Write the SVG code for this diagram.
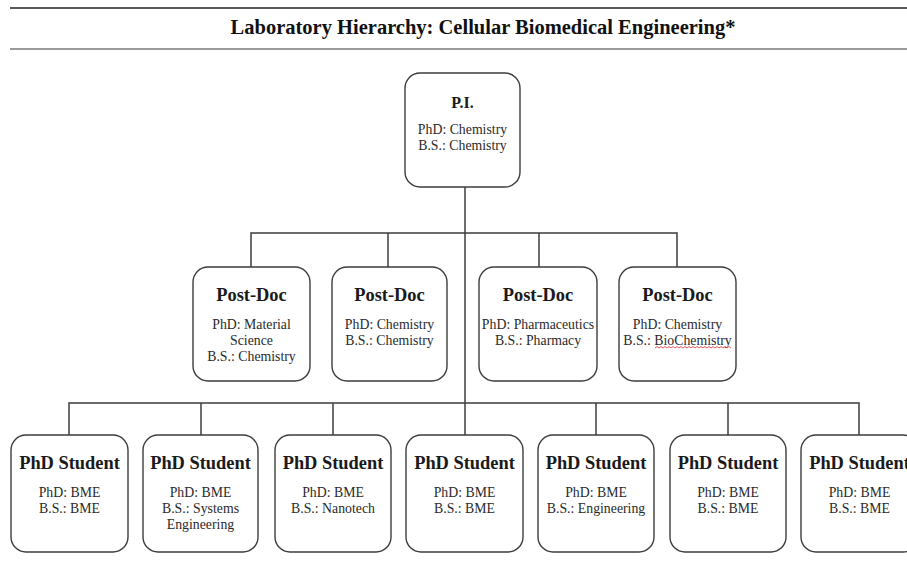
<svg xmlns="http://www.w3.org/2000/svg" width="907" height="578" viewBox="0 0 907 578">
  <style>
    .box { fill: #ffffff; stroke: #3c3c3c; stroke-width: 1.4; }
    .wire { fill: none; stroke: #3c3c3c; stroke-width: 1.5; }
    .title { font-family: "Liberation Serif", "Times New Roman", serif; font-weight: bold; font-size: 20.5px; fill: #111; text-anchor: middle; }
    .role { font-family: "Liberation Serif", "Times New Roman", serif; font-weight: bold; font-size: 18.4px; fill: #1a1a1a; text-anchor: middle; }
    .pi { font-family: "Liberation Serif", "Times New Roman", serif; font-weight: bold; font-size: 16px; fill: #1a1a1a; text-anchor: middle; }
    .info { font-family: "Liberation Serif", "Times New Roman", serif; font-size: 13.8px; fill: #2a2a2a; text-anchor: middle; }
  </style>

  <!-- header rules and title -->
  <g id="header">
    <line x1="10" y1="8" x2="907" y2="8" stroke="#5a5a5a" stroke-width="2"/>
    <line x1="10" y1="49" x2="907" y2="49" stroke="#9a9a9a" stroke-width="2"/>
    <text class="title" x="483" y="34">Laboratory Hierarchy: Cellular Biomedical Engineering*</text>
  </g>

  <!-- connectors -->
  <g id="connectors">
    <line class="wire" x1="465" y1="187" x2="465" y2="403"/>
    <polyline class="wire" points="251,267 251,233 677,233 677,267"/>
    <line class="wire" x1="388" y1="233" x2="388" y2="267"/>
    <line class="wire" x1="539" y1="233" x2="539" y2="267"/>
    <polyline class="wire" points="69,435 69,403 859,403 859,435"/>
    <line class="wire" x1="201" y1="403" x2="201" y2="435"/>
    <line class="wire" x1="333" y1="403" x2="333" y2="435"/>
    <line class="wire" x1="465" y1="403" x2="465" y2="435"/>
    <line class="wire" x1="596" y1="403" x2="596" y2="435"/>
    <line class="wire" x1="728" y1="403" x2="728" y2="435"/>
  </g>

  <!-- principal investigator -->
  <g id="pi">
    <rect class="box" x="405" y="73" width="115" height="114" rx="15"/>
    <text class="pi" x="462.5" y="108">P.I.</text>
    <text class="info" x="462.5" y="134">PhD: Chemistry</text>
    <text class="info" x="462.5" y="150">B.S.: Chemistry</text>
  </g>

  <!-- post-docs -->
  <g id="postdoc1">
    <rect class="box" x="193" y="267" width="117" height="114" rx="15"/>
    <text class="role" x="251.5" y="301">Post-Doc</text>
    <text class="info" x="251.5" y="329">PhD: Material</text>
    <text class="info" x="251.5" y="345">Science</text>
    <text class="info" x="251.5" y="361">B.S.: Chemistry</text>
  </g>
  <g id="postdoc2">
    <rect class="box" x="332" y="267" width="115" height="114" rx="15"/>
    <text class="role" x="389.5" y="301">Post-Doc</text>
    <text class="info" x="389.5" y="329">PhD: Chemistry</text>
    <text class="info" x="389.5" y="345">B.S.: Chemistry</text>
  </g>
  <g id="postdoc3">
    <rect class="box" x="479" y="267" width="118" height="114" rx="15"/>
    <text class="role" x="538" y="301">Post-Doc</text>
    <text class="info" x="538" y="329">PhD: Pharmaceutics</text>
    <text class="info" x="538" y="345">B.S.: Pharmacy</text>
  </g>
  <g id="postdoc4">
    <rect class="box" x="619" y="267" width="117" height="114" rx="15"/>
    <text class="role" x="677.5" y="301">Post-Doc</text>
    <text class="info" x="677.5" y="329">PhD: Chemistry</text>
    <text class="info" x="677.5" y="345">B.S.: BioChemistry</text>
    <!-- spell-check squiggle under the word -->
    <path d="M655,348 l2,-1.5 l2,1.5 l2,-1.5 l2,1.5 l2,-1.5 l2,1.5 l2,-1.5 l2,1.5 l2,-1.5 l2,1.5 l2,-1.5 l2,1.5 l2,-1.5 l2,1.5 l2,-1.5 l2,1.5 l2,-1.5 l2,1.5 l2,-1.5 l2,1.5 l2,-1.5 l2,1.5 l2,-1.5 l2,1.5 l2,-1.5 l2,1.5 l2,-1.5 l2,1.5 l2,-1.5 l2,1.5 l2,-1.5 l2,1.5 l2,-1.5 l2,1.5 l2,-1.5 l2,1.5 l2,-1.5 l2,1.5" fill="none" stroke="#e04848" stroke-width="0.9"/>
  </g>

  <!-- PhD students -->
  <g id="student1">
    <rect class="box" x="11" y="435" width="117" height="117" rx="15"/>
    <text class="role" x="69.5" y="469">PhD Student</text>
    <text class="info" x="69.5" y="497">PhD: BME</text>
    <text class="info" x="69.5" y="513">B.S.: BME</text>
  </g>
  <g id="student2">
    <rect class="box" x="143" y="435" width="115" height="117" rx="15"/>
    <text class="role" x="200.5" y="469">PhD Student</text>
    <text class="info" x="200.5" y="497">PhD: BME</text>
    <text class="info" x="200.5" y="513">B.S.: Systems</text>
    <text class="info" x="200.5" y="529">Engineering</text>
  </g>
  <g id="student3">
    <rect class="box" x="275" y="435" width="116" height="117" rx="15"/>
    <text class="role" x="333" y="469">PhD Student</text>
    <text class="info" x="333" y="497">PhD: BME</text>
    <text class="info" x="333" y="513">B.S.: Nanotech</text>
  </g>
  <g id="student4">
    <rect class="box" x="406" y="435" width="117" height="117" rx="15"/>
    <text class="role" x="464.5" y="469">PhD Student</text>
    <text class="info" x="464.5" y="497">PhD: BME</text>
    <text class="info" x="464.5" y="513">B.S.: BME</text>
  </g>
  <g id="student5">
    <rect class="box" x="538" y="435" width="116" height="117" rx="15"/>
    <text class="role" x="596" y="469">PhD Student</text>
    <text class="info" x="596" y="497">PhD: BME</text>
    <text class="info" x="596" y="513">B.S.: Engineering</text>
  </g>
  <g id="student6">
    <rect class="box" x="670" y="435" width="116" height="117" rx="15"/>
    <text class="role" x="728" y="469">PhD Student</text>
    <text class="info" x="728" y="497">PhD: BME</text>
    <text class="info" x="728" y="513">B.S.: BME</text>
  </g>
  <g id="student7">
    <rect class="box" x="801" y="435" width="117" height="117" rx="15"/>
    <text class="role" x="859.5" y="469">PhD Student</text>
    <text class="info" x="859.5" y="497">PhD: BME</text>
    <text class="info" x="859.5" y="513">B.S.: BME</text>
  </g>
</svg>
